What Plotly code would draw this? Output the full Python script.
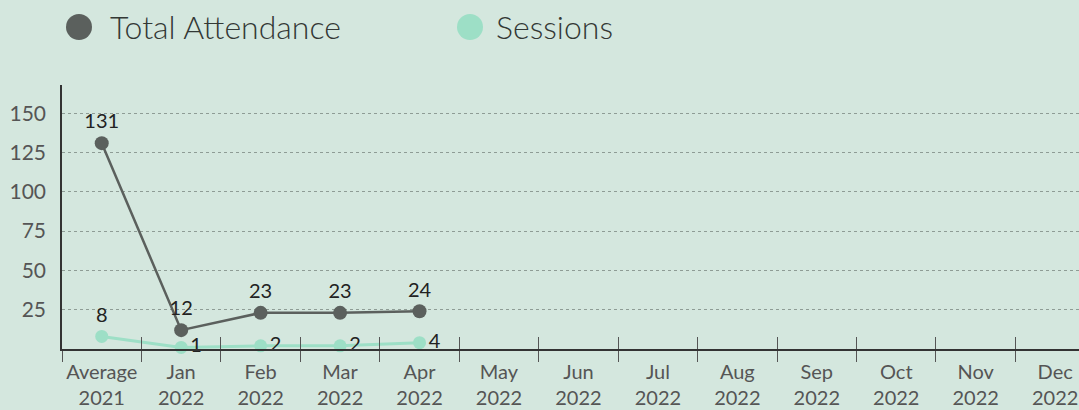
import plotly.graph_objects as go

categories = ["Average<br>2021", "Jan<br>2022", "Feb<br>2022", "Mar<br>2022", "Apr<br>2022",
              "May<br>2022", "Jun<br>2022", "Jul<br>2022", "Aug<br>2022", "Sep<br>2022",
              "Oct<br>2022", "Nov<br>2022", "Dec<br>2022"]
data_categories = categories[:5]
total_attendance = [131, 12, 23, 23, 24]
sessions = [8, 1, 2, 2, 4]
y_ticks = [25, 50, 75, 100, 125, 150]
series_names = ["Total Attendance", "Sessions"]

BG = "#d4e7de"
DARK = "#5b605d"
MINT = "#9ddfc6"

W, H = 1079, 410
ML, MR, MT, MB = 62, 0, 85, 61
PW, PH = W - ML - MR, H - MT - MB


def px_x(x):
    return (x - ML) / PW


def px_y(y):
    return (H - MB - y) / PH


fig = go.Figure()
fig.add_trace(go.Scatter(
    x=data_categories, y=sessions, name=series_names[1],
    mode="lines+markers+text",
    line=dict(color=MINT, width=3),
    marker=dict(color=MINT, size=13),
    text=[str(v) for v in sessions],
    textposition=["top center"] + ["middle right"] * 4,
    textfont=dict(family="Lato", size=20, color="#222222"),
    cliponaxis=False, showlegend=False,
))
fig.add_trace(go.Scatter(
    x=data_categories, y=total_attendance, name=series_names[0],
    mode="lines+markers+text",
    line=dict(color=DARK, width=2.5),
    marker=dict(color=DARK, size=14),
    text=[str(v) for v in total_attendance],
    textposition="top center",
    textfont=dict(family="Lato", size=20, color="#222222"),
    cliponaxis=False, showlegend=False,
))
# invisible trace to activate overlaying axis for upper tick marks
fig.add_trace(go.Scatter(x=[categories[0]], y=[None], xaxis="x2", showlegend=False,
                         hoverinfo="skip"))

# legend drawn as circles + text
legend_items = [(series_names[0], DARK, 79, 108), (series_names[1], MINT, 470, 494)]
shapes = []
annotations = []
for name, color, cx, tx in legend_items:
    shapes.append(dict(type="circle", xref="paper", yref="paper",
                       xsizemode="pixel", ysizemode="pixel",
                       xanchor=px_x(cx), yanchor=px_y(27),
                       x0=-13, x1=13, y0=-13, y1=13,
                       fillcolor=color, line=dict(width=0)))
    annotations.append(dict(text=name, xref="paper", yref="paper",
                            x=px_x(tx), y=px_y(27), xanchor="left", yanchor="middle",
                            showarrow=False,
                            font=dict(family="Lato", size=32, color="#333835", weight=300)))

fig.update_layout(
    width=W, height=H,
    paper_bgcolor=BG, plot_bgcolor=BG,
    margin=dict(l=ML, r=MR, t=MT, b=MB, autoexpand=False),
    font=dict(family="Lato", color="#555555", size=20),
    showlegend=False,
    shapes=shapes, annotations=annotations,
    xaxis=dict(
        type="category", categoryorder="array", categoryarray=categories,
        range=[-0.5, 12.3], automargin=False, tickangle=0,
        showline=True, linecolor="#333333", linewidth=1.5,
        ticks="outside", tickson="boundaries", ticklen=11, tickcolor="#555555",
        ticklabelstandoff=4,
        showgrid=False, zeroline=False,
        tickfont=dict(family="Lato", size=20, color="#555555"),
    ),
    xaxis2=dict(
        type="category", categoryorder="array", categoryarray=categories,
        range=[-0.5, 12.3], overlaying="x", anchor="y", side="bottom",
        ticks="inside", tickson="boundaries", ticklen=12, tickcolor="#555555",
        showticklabels=False, showgrid=False, zeroline=False, showline=False,
    ),
    yaxis=dict(
        range=[0, 168], tickvals=y_ticks, automargin=False,
        showline=True, linecolor="#333333", linewidth=1.5,
        showgrid=True, gridcolor="#8e9c95", gridwidth=1, griddash="dot",
        zeroline=False, ticks="", ticklabelstandoff=10,
        tickfont=dict(family="Lato", size=21, color="#555555"),
    ),
)

fig.write_html("out.html", config={"displayModeBar": False})

with open("out.html", "r", encoding="utf-8") as f:
    html = f.read()
html = html.replace("<head>", "<head><style>html,body{margin:0;padding:0;overflow:hidden;}</style>", 1)
with open("out.html", "w", encoding="utf-8") as f:
    f.write(html)
